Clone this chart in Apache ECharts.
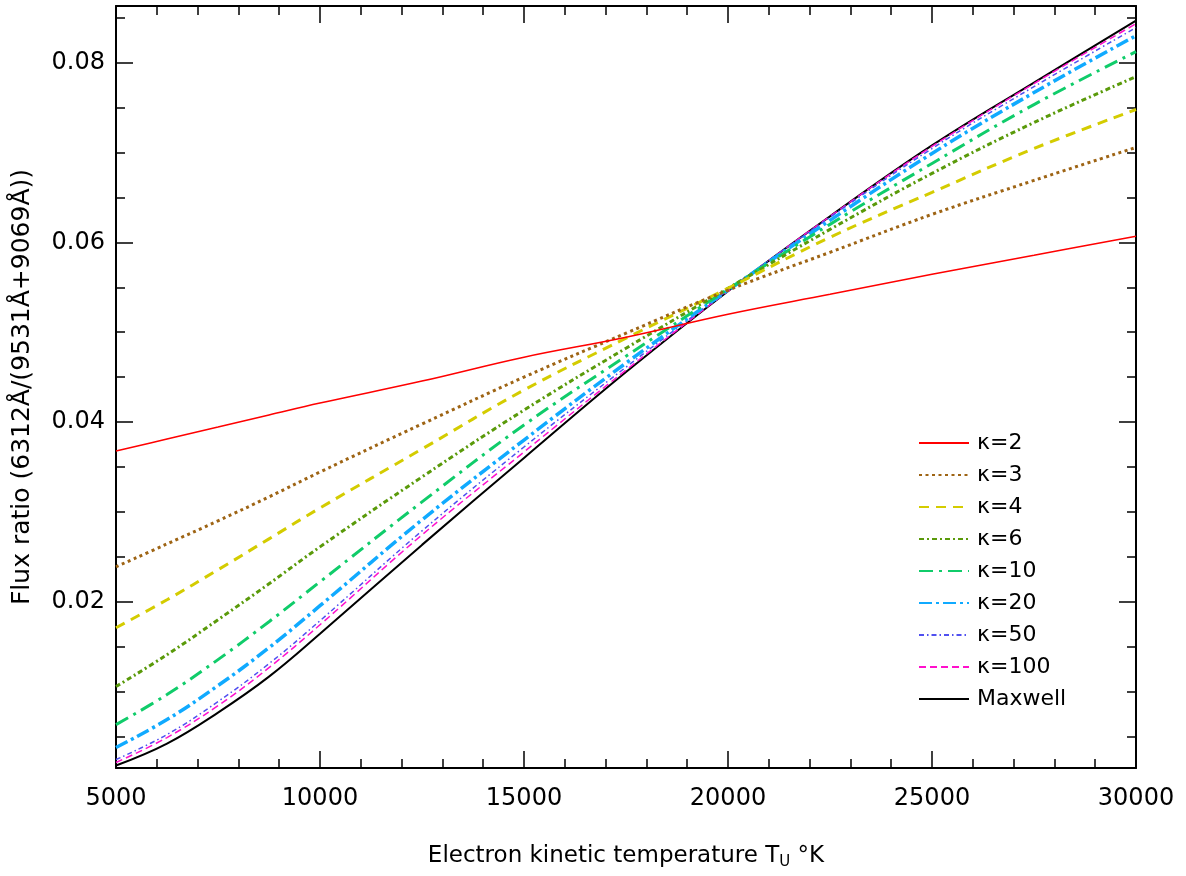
<!DOCTYPE html>
<html>
<head>
<meta charset="utf-8">
<script src="https://cdn.jsdelivr.net/npm/echarts@6/dist/echarts.min.js"></script>
<style>
html,body{margin:0;padding:0;background:#fff;}
#chart{width:1186px;height:876px;}
</style>
</head>
<body>
<div id="chart"></div>
<script>
// Electron temperature (K)
const temps = [5000, 6250, 7500, 8750, 10000, 12500, 15000, 17500, 20000, 22500, 25000, 27500, 30000];
// Flux ratio values
const kappa2   = [0.03678, 0.03811, 0.03944, 0.04078, 0.04211, 0.04456, 0.04722, 0.04944, 0.05200, 0.05422, 0.05644, 0.05856, 0.06067];
const kappa3   = [0.02389, 0.02644, 0.02900, 0.03167, 0.03444, 0.03978, 0.04500, 0.04989, 0.05467, 0.05889, 0.06311, 0.06689, 0.07056];
const kappa4   = [0.01711, 0.02022, 0.02356, 0.02700, 0.03044, 0.03700, 0.04356, 0.04933, 0.05489, 0.06056, 0.06556, 0.07044, 0.07478];
const kappa6   = [0.01056, 0.01411, 0.01800, 0.02200, 0.02611, 0.03389, 0.04133, 0.04822, 0.05489, 0.06144, 0.06767, 0.07333, 0.07844];
const kappa10  = [0.00633, 0.00967, 0.01356, 0.01778, 0.02222, 0.03111, 0.03967, 0.04733, 0.05478, 0.06200, 0.06878, 0.07533, 0.08122];
const kappa20  = [0.00378, 0.00689, 0.01067, 0.01489, 0.01956, 0.02911, 0.03800, 0.04656, 0.05467, 0.06244, 0.06989, 0.07667, 0.08300];
const kappa50  = [0.00244, 0.00522, 0.00889, 0.01311, 0.01789, 0.02789, 0.03722, 0.04611, 0.05467, 0.06278, 0.07044, 0.07733, 0.08389];
const kappa100 = [0.00211, 0.00489, 0.00844, 0.01267, 0.01744, 0.02744, 0.03667, 0.04578, 0.05456, 0.06289, 0.07067, 0.07767, 0.08433];
const maxwell  = [0.00178, 0.00422, 0.00767, 0.01167, 0.01644, 0.02633, 0.03600, 0.04556, 0.05456, 0.06289, 0.07078, 0.07778, 0.08467];

const seriesNames = ['κ=2', 'κ=3', 'κ=4', 'κ=6', 'κ=10', 'κ=20', 'κ=50', 'κ=100', 'Maxwell'];
const seriesValues = [kappa2, kappa3, kappa4, kappa6, kappa10, kappa20, kappa50, kappa100, maxwell];

// Axis ticks
const xTicks = [5000, 10000, 15000, 20000, 25000, 30000];
const yMajorTicks = [0.02, 0.04, 0.06, 0.08];
const yMinorTicks = [0.005, 0.01, 0.015, 0.025, 0.03, 0.035, 0.045, 0.05, 0.055, 0.065, 0.07, 0.075, 0.085];

const styles = [
  {color: '#ff0000', width: 1.5, type: 'solid'},
  {color: '#9e6414', width: 3, type: [3, 3.5]},
  {color: '#d4cc00', width: 3, type: [10, 7]},
  {color: '#5a9a0a', width: 3, type: [5, 3, 2, 3]},
  {color: '#10cc6a', width: 3, type: [14, 6, 3, 6]},
  {color: '#10aaff', width: 3.5, type: [13, 4, 3, 4]},
  {color: '#5050f0', width: 1.5, type: [5, 3, 1.5, 3]},
  {color: '#ff10cc', width: 1.5, type: [7, 4]},
  {color: '#000000', width: 2, type: 'solid'}
];

const FONT = 'DejaVu Sans';
const chart = echarts.init(document.getElementById('chart'), null, {renderer: 'canvas'});

const yMin = 0.0015, yMax = 0.0863;

function yAxisDef(pos, major, labels) {
  return {
    type: 'value', position: pos, min: yMin, max: yMax,
    axisLine: {show: major, lineStyle: {color: '#000', width: 2}},
    splitLine: {show: false},
    axisTick: {show: true, inside: true, length: major ? 17 : 9, customValues: major ? yMajorTicks : yMinorTicks,
               lineStyle: {color: '#000', width: 1.5}},
    axisLabel: {show: labels, customValues: yMajorTicks, margin: 11,
                formatter: v => v.toFixed(2), color: '#000', fontFamily: FONT, fontSize: 24},
    name: labels ? 'Flux ratio (6312Å/(9531Å+9069Å))' : '',
    nameLocation: 'middle', nameGap: 81, nameRotate: 90,
    nameTextStyle: {color: '#000', fontFamily: FONT, fontSize: 25}
  };
}
function xAxisDef(pos, labels) {
  return {
    type: 'value', position: pos, min: 5000, max: 30000, interval: 5000,
    axisLine: {show: true, lineStyle: {color: '#000', width: 2}},
    splitLine: {show: false},
    axisTick: {show: true, inside: true, length: 17, lineStyle: {color: '#000', width: 1.5}},
    minorTick: {show: true, splitNumber: 5, length: 9, lineStyle: {color: '#000', width: 1.5}},
    axisLabel: {show: labels, margin: 19, color: '#000', fontFamily: FONT, fontSize: 24,
                formatter: v => String(v)},
    name: labels ? 'Electron kinetic temperature T{sub|U} °K' : '',
    nameLocation: 'middle', nameGap: 75,
    nameTextStyle: {color: '#000', fontFamily: FONT, fontSize: 23,
      rich: {sub: {fontSize: 15, fontFamily: FONT, color: '#000', padding: [12, 0, 0, 0]}}}
  };
}

const series = seriesNames.map((name, i) => ({
  name: name, type: 'line', xAxisIndex: 0, yAxisIndex: 0,
  data: temps.map((t, j) => [t, seriesValues[i][j]]),
  smooth: 0.4, symbol: 'none', showSymbol: false,
  lineStyle: {color: styles[i].color, width: styles[i].width, type: styles[i].type},
  itemStyle: {color: styles[i].color},
  z: 10 - i, animation: false
}));

chart.setOption({
  animation: false,
  backgroundColor: '#fff',
  grid: {left: 116, right: 50, top: 6, bottom: 108, containLabel: false},
  xAxis: [xAxisDef('bottom', true), xAxisDef('top', false)],
  yAxis: [yAxisDef('left', true, true), yAxisDef('left', false, false),
          yAxisDef('right', true, false), yAxisDef('right', false, false)],
  legend: {
    orient: 'vertical', left: 913, top: 427,
    itemWidth: 50, itemHeight: 14, itemGap: 10,
    itemStyle: {opacity: 0},
    textStyle: {color: '#000', fontFamily: FONT, fontSize: 22, lineHeight: 22, padding: [0, 0, 0, 3]},
    data: seriesNames, selectedMode: false
  },
  series: series
});
</script>
</body>
</html>
